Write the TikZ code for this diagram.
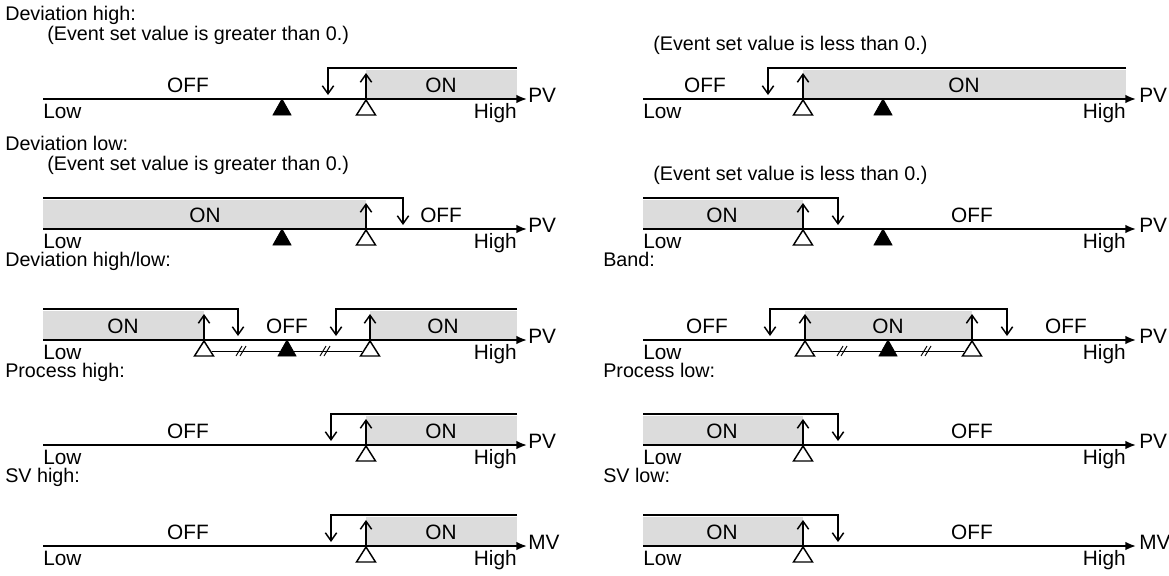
\documentclass[tikz,border=0pt]{standalone}
\usepackage{fontspec}
\setmainfont{Liberation Sans}
\usetikzlibrary{arrows.meta}
\definecolor{grayfill}{RGB}{220,220,220}
\tikzset{
 txt/.style={inner sep=0pt, font=\fontsize{15.6}{18}\selectfont},
 head/.style={inner sep=0pt, font=\fontsize{14.8}{17}\selectfont},
 axisln/.style={line width=1.4pt, -{Latex[length=8pt,width=6.5pt]}},
 varrow/.style={line width=1.1pt, line join=miter, -{Straight Barb[length=6pt,width=8.5pt,line width=1.1pt]}},
 wtri/.style={draw=black, fill=white, line width=1.1pt, line join=miter},
 btri/.style={draw=black, fill=black, line width=0.6pt, line join=miter},
 bandfill/.style={fill=grayfill},
 dimln/.style={line width=0.7pt},
}
\newcommand{\AX}[7]{%
 \coordinate (#1s) at (#2,#5);
 \coordinate (#1t) at (#4,#5);
 \draw[axisln] (#1s) -- (#1t);
 \node[txt,anchor=base west] (#1low) at (#2,#5+19) {Low};
 \node[txt,anchor=base east] (#1high) at (#3,#5+19) {High};
 \node[txt,anchor=base west] (#1pv) at (#4+#7,#5+3) {#6};}
\newcommand{\WT}[2]{\draw[wtri] (#1,#2+1) -- ++(-9.5,15) -- ++(19,0) -- cycle;}
\newcommand{\BT}[2]{\draw[btri] (#1,#2) -- ++(-9,16) -- ++(18,0) -- cycle;}
\newcommand{\UP}[2]{\draw[varrow] (#1,#2) -- (#1,#2-26);}
\newcommand{\GR}[3]{\fill[bandfill] (#1,#3-29) rectangle (#2,#3);}
\newcommand{\TD}[3]{\draw[varrow] (#1,#3-31) -- (#2,#3-31) -- (#2,#3-4);}
\newcommand{\MK}[2]{\draw[dimln] (#1-6,#2+16) -- (#1,#2+6); \draw[dimln] (#1-2,#2+16) -- (#1+4,#2+6);}
\newcommand{\ST}[4]{\node[txt,anchor=base] (#1) at (#2,#3-7) {#4};}
\begin{document}
\begin{tikzpicture}[x=0.75pt,y=-0.75pt]
\useasboundingbox (0,0) rectangle (1169,575);
% ---------- Row 1 ----------
\node[head,anchor=base west] (h1) at (5,20) {Deviation high:};
\node[head,anchor=base west] (s1l) at (47,40) {(Event set value is greater than 0.)};
\node[head,anchor=base west] (s1r) at (653,50) {(Event set value is less than 0.)};
% left
\GR{366}{517}{99}
\TD{517}{328}{99}
\UP{366}{99}
\AX{a}{43}{517}{527}{99}{PV}{1}
\BT{282}{99} \WT{366}{99}
\ST{aoff}{188}{99}{OFF} \ST{aon}{441}{99}{ON}
% right
\GR{803}{1126}{99}
\TD{1126}{768}{99}
\UP{803}{99}
\AX{b}{643}{1126}{1136}{99}{PV}{3}
\WT{803}{99} \BT{883}{99}
\ST{boff}{705}{99}{OFF} \ST{bon}{964}{99}{ON}
% ---------- Row 2 ----------
\node[head,anchor=base west] (h2) at (5,150) {Deviation low:};
\node[head,anchor=base west] (s2l) at (47,170) {(Event set value is greater than 0.)};
\node[head,anchor=base west] (s2r) at (653,180) {(Event set value is less than 0.)};
% left
\GR{43}{366}{229}
\TD{43}{403}{229}
\UP{366}{229}
\AX{c}{43}{517}{527}{229}{PV}{1}
\BT{282}{229} \WT{366}{229}
\ST{con}{205}{229}{ON}
\node[txt,anchor=base west] (coff) at (420,222) {OFF};
% right
\GR{643}{803}{229}
\TD{643}{838}{229}
\UP{803}{229}
\AX{d}{643}{1126}{1136}{229}{PV}{3}
\WT{803}{229} \BT{883}{229}
\ST{don}{722}{229}{ON} \ST{doff}{972}{229}{OFF}
% ---------- Row 3 ----------
\node[head,anchor=base west] (h3l) at (5,266) {Deviation high/low:};
\node[head,anchor=base west] (h3r) at (603,266) {Band:};
% left
\GR{43}{204}{340} \GR{370}{517}{340}
\TD{43}{238}{340} \TD{517}{336}{340}
\UP{204}{340} \UP{370}{340}
\AX{e}{43}{517}{527}{340}{PV}{1}
\draw[dimln] (212,351) -- (280,351);
\draw[dimln] (294,351) -- (362,351);
\MK{242}{340} \MK{326}{340}
\WT{204}{340} \BT{287}{340} \WT{370}{340}
\ST{eon1}{123}{340}{ON} \ST{eoff}{287}{340}{OFF} \ST{eon2}{443}{340}{ON}
% right
\GR{805}{972}{340}
\draw[varrow] (888,309) -- (770,309) -- (770,336);
\draw[varrow] (888,309) -- (1007,309) -- (1007,336);
\UP{805}{340} \UP{972}{340}
\AX{f}{643}{1126}{1136}{340}{PV}{3}
\draw[dimln] (813,351) -- (881,351);
\draw[dimln] (895,351) -- (964,351);
\MK{843}{340} \MK{927}{340}
\WT{805}{340} \BT{888}{340} \WT{972}{340}
\ST{foff1}{707}{340}{OFF} \ST{fon}{888}{340}{ON} \ST{foff2}{1066}{340}{OFF}
% ---------- Row 4 ----------
\node[head,anchor=base west] (h4l) at (5,377) {Process high:};
\node[head,anchor=base west] (h4r) at (603,377) {Process low:};
\GR{366}{517}{445}
\TD{517}{331}{445}
\UP{366}{445}
\AX{g}{43}{517}{527}{445}{PV}{1}
\WT{366}{445}
\ST{goff}{188}{445}{OFF} \ST{gon}{441}{445}{ON}
\GR{643}{803}{445}
\TD{643}{838}{445}
\UP{803}{445}
\AX{h}{643}{1126}{1136}{445}{PV}{3}
\WT{803}{445}
\ST{hon}{722}{445}{ON} \ST{hoff}{972}{445}{OFF}
% ---------- Row 5 ----------
\node[head,anchor=base west] (h5l) at (5,482) {SV high:};
\node[head,anchor=base west] (h5r) at (603,482) {SV low:};
\GR{366}{517}{546}
\TD{517}{331}{546}
\UP{366}{546}
\AX{i}{43}{517}{527}{546}{MV}{1}
\WT{366}{546}
\ST{ioff}{188}{546}{OFF} \ST{ion}{441}{546}{ON}
\GR{643}{803}{546}
\TD{643}{838}{546}
\UP{803}{546}
\AX{j}{643}{1126}{1136}{546}{MV}{3}
\WT{803}{546}
\ST{jon}{722}{546}{ON} \ST{joff}{972}{546}{OFF}
\end{tikzpicture}
\end{document}
